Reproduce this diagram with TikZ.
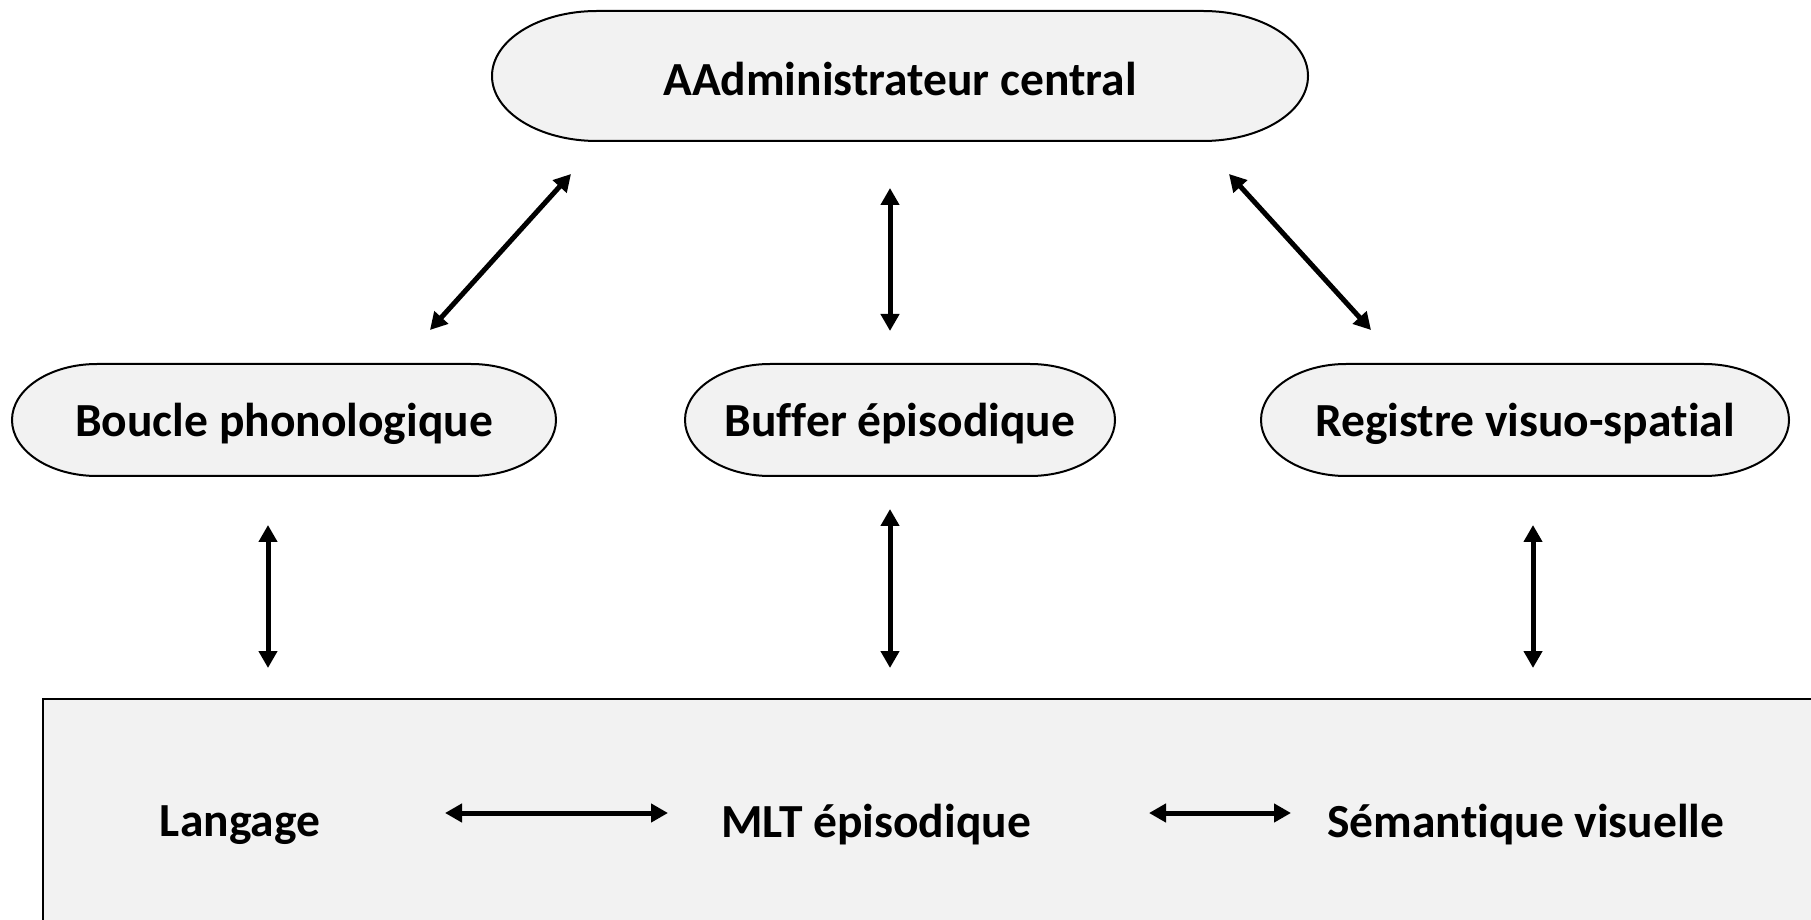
\documentclass[tikz,border=0pt]{standalone}
\usepackage{fontspec}
\setmainfont[Ligatures=NoCommon]{Carlito}
\usetikzlibrary{arrows.meta}
\definecolor{boxgray}{HTML}{F2F2F2}

% stadium outline with elliptical ends: centre x, centre y, half width, half height, end x radius
\newcommand\pillpath[5]{%
  \filldraw[pill] ({#1+#3-#5},{#2+#4})
    arc[start angle=90,end angle=-90,x radius=#5,y radius=#4]
    -- ({#1-#3+#5},{#2-#4})
    arc[start angle=270,end angle=90,x radius=#5,y radius=#4]
    -- cycle;}

\begin{document}
\begin{tikzpicture}[x=1pt,y=1pt,
  pill/.style={fill=boxgray,draw=black,line width=2pt},
  txt/.style={font=\fontsize{47.5}{56}\selectfont\bfseries,inner sep=0pt},
  link/.style={line width=5pt,{Triangle[length=17pt,width=18pt]}-{Triangle[length=17pt,width=18pt]}}]
\useasboundingbox[fill=white] (0,0) rectangle (1811,919);

% long-term memory box, running off the right and bottom edges
\filldraw[fill=boxgray,draw=black,line width=2.5pt] (43,220) rectangle (1840,-30);

% working memory components
\pillpath{900}{843}{408}{65}{105}
\pillpath{284}{499}{272}{56}{85}
\pillpath{900}{499}{215}{56}{85}
\pillpath{1525}{499}{264}{56}{85}

\node[txt] (admin) at (900,840) {AAdministrateur central};
\node[txt] (boucle) at (284,495) {Boucle phonologique};
\node[txt] (buffer) at (900,495) {Buffer épisodique};
\node[txt] (registre) at (1525,495) {Registre visuo-spatial};

\node[txt] (langage) at (240,94) {Langage};
\node[txt] (mlt) at (876,94) {MLT épisodique};
\node[txt] (semantique) at (1526,94) {Sémantique visuelle};

% connector ends
\coordinate (a1s) at (430,589);  \coordinate (a1e) at (571,745);
\coordinate (a2s) at (890,588);  \coordinate (a2e) at (890,731);
\coordinate (a3s) at (1371,589); \coordinate (a3e) at (1229,745);
\coordinate (b1s) at (268,394);  \coordinate (b1e) at (268,251);
\coordinate (b2s) at (890,410);  \coordinate (b2e) at (890,251);
\coordinate (b3s) at (1533,394); \coordinate (b3e) at (1533,251);
\coordinate (h1s) at (445,106);  \coordinate (h1e) at (668,106);
\coordinate (h2s) at (1149,106); \coordinate (h2e) at (1291,106);

\draw[link] (a1s) -- (a1e);
\draw[link] (a2s) -- (a2e);
\draw[link] (a3s) -- (a3e);
\draw[link] (b1s) -- (b1e);
\draw[link] (b2s) -- (b2e);
\draw[link] (b3s) -- (b3e);
\draw[link] (h1s) -- (h1e);
\draw[link] (h2s) -- (h2e);
\end{tikzpicture}
\end{document}
